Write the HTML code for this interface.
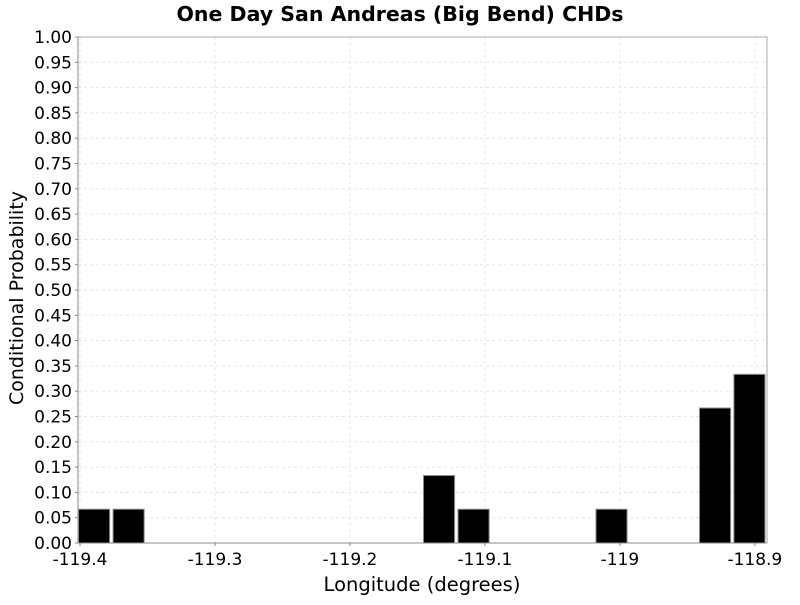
<!DOCTYPE html>
<html><head><meta charset="utf-8"><style>
body{margin:0;background:#fff;}
svg text{font-family:"DejaVu Sans","Liberation Sans",sans-serif;}
</style></head><body>
<svg id="chart" width="800" height="600">
<text x="400" y="21" text-anchor="middle" font-size="20.5" font-weight="bold">One Day San Andreas (Big Bend) CHDs</text>
<g id="grid"></g><g id="bars"></g><g id="axes"></g>
<text x="422" y="591" text-anchor="middle" font-size="19.5">Longitude (degrees)</text>
<text transform="translate(23,298) rotate(-90)" text-anchor="middle" font-size="19">Conditional Probability</text>
</svg>
<script>
const binCenters=[-119.3896,-119.3640,-119.1340,-119.1084,-119.0062,-118.9295,-118.9040];
const probabilities=[0.0667,0.0667,0.1333,0.0667,0.0667,0.2667,0.3333];
const xTicks=[-119.4,-119.3,-119.2,-119.1,-119.0,-118.9];
const xTickLabels=["-119.4","-119.3","-119.2","-119.1","-119","-118.9"];
const yTicks=[0,0.05,0.1,0.15,0.2,0.25,0.3,0.35,0.4,0.45,0.5,0.55,0.6,0.65,0.7,0.75,0.8,0.85,0.9,0.95,1.0];
const L=78,R=767,T=37,B=543, xMin=-119.4015, xMax=-118.891, binWidth=0.023;
const NS="http://www.w3.org/2000/svg";
const xs=v=>L+(v-xMin)/(xMax-xMin)*(R-L);
const ys=v=>B-v*(B-T);
function mk(tag,attrs,parent){const e=document.createElementNS(NS,tag);for(const k in attrs)e.setAttribute(k,attrs[k]);document.getElementById(parent).appendChild(e);return e;}
mk('rect',{x:L,y:T,width:R-L,height:B-T,fill:'#fff'},'grid');
yTicks.forEach(v=>{const y=ys(v);
 const g=mk('line',{x1:L,x2:R,y1:y,y2:y,stroke:'#e6e6e6','stroke-dasharray':'3,3'},'grid');
 
 
 const t=mk('text',{x:L-6,y:y+6,'text-anchor':'end','font-size':'17'},'axes');t.textContent=v.toFixed(2);
 
 
 mk('line',{x1:L-3,x2:L,y1:y,y2:y,stroke:'#888'},'axes');
});
xTicks.forEach((v,i)=>{const x=xs(v);
 const g=mk('line',{x1:x,x2:x,y1:T,y2:B,stroke:'#e6e6e6','stroke-dasharray':'3,3'},'grid');
 
 
 const t=mk('text',{x:x,y:B+22,'text-anchor':'middle','font-size':'17'},'axes');t.textContent=xTickLabels[i];
 
 
 mk('line',{x1:x,x2:x,y1:B,y2:B+3,stroke:'#888'},'axes');
});
binCenters.forEach((c,i)=>{const x0=xs(c-binWidth/2),x1=xs(c+binWidth/2),y=ys(probabilities[i]);
 const b=mk('rect',{x:x0,y:y,width:x1-x0,height:B-y,fill:'#000',stroke:'#888','stroke-width':'1'},'bars');
 
 
});
mk('rect',{x:L,y:T,width:R-L,height:B-T,fill:'none',stroke:'#aaa'},'axes');
mk('line',{x1:L,x2:R,y1:B,y2:B,stroke:'#888'},'axes');
mk('line',{x1:L,x2:L,y1:T,y2:B,stroke:'#888'},'axes');
</script>
</body></html>
